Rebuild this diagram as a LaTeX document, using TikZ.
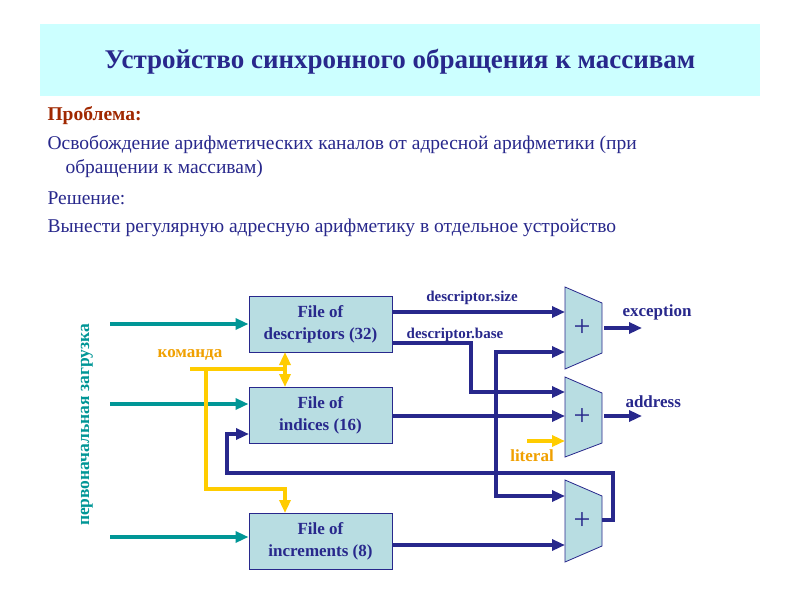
\documentclass[tikz,border=0pt]{standalone}
\usepackage{fontspec}
\setmainfont{Liberation Serif}
\usetikzlibrary{arrows.meta}
\definecolor{navy}{RGB}{40,40,140}
\definecolor{tealc}{RGB}{0,150,150}
\definecolor{yel}{RGB}{255,204,0}
\definecolor{orng}{RGB}{240,160,0}
\definecolor{boxf}{RGB}{184,221,226}
\definecolor{hdr}{RGB}{204,255,255}
\definecolor{brn}{RGB}{160,40,0}
\begin{document}
\begin{tikzpicture}[x=1pt,y=-1pt,
  tip/.style={-{Triangle[length=13pt,width=11pt]}},
  blk/.style={draw=navy,fill=boxf,line width=1pt,minimum width=143pt,minimum height=56pt,align=center,text=navy,font=\bfseries\fontsize{17}{22}\selectfont},
  bl/.style={draw=navy,line width=3.2pt,tip},
  tl/.style={draw=tealc,line width=3.2pt,tip},
  yl/.style={draw=yel,line width=3.2pt},
  lab/.style={text=navy,font=\bfseries\fontsize{15}{17}\selectfont},
  txt/.style={anchor=west,text=navy,font=\fontsize{19.5}{22}\selectfont},
  pl/.style={text=navy,font=\fontsize{30}{30}\selectfont},
  add/.style={draw=navy,fill=boxf,line width=0.8pt}]
\useasboundingbox (0,0) rectangle (800,600);
\fill[white] (0,0) rectangle (800,600);
\node[fill=hdr,minimum width=720pt,minimum height=72pt,anchor=north west,inner sep=0] (hd) at (40,24) {};
\node[text=navy,font=\bfseries\fontsize{27}{30}\selectfont] (title) at (400,62) {Устройство синхронного обращения к массивам};
\node[txt,text=brn,font=\bfseries\fontsize{19.5}{22}\selectfont] (p) at (44,116) {Проблема:};
\node[txt] (t1) at (44,145) {Освобождение арифметических каналов от адресной арифметики (при};
\node[txt] (t2) at (62,169) {обращении к массивам)};
\node[txt] (r) at (44,198) {Решение:};
\node[txt] (t3) at (44,228) {Вынести регулярную адресную арифметику в отдельное устройство};

\node[blk] (d) at (320.5,324) {File of\\descriptors (32)};
\node[blk] (i) at (320.5,415) {File of\\indices (16)};
\node[blk] (n) at (320.5,541) {File of\\increments (8)};

\draw[add] (565,287) -- (602,303) -- (602,353) -- (565,369) -- cycle;
\node[pl] (a1) at (582,328) {+};
\draw[add] (565,377) -- (602,393) -- (602,443) -- (565,457) -- cycle;
\node[pl] (a2) at (582,417) {+};
\draw[add] (565,480) -- (602,496) -- (602,546) -- (565,562) -- cycle;
\node[pl] (a3) at (582,521) {+};

\coordinate (s1) at (110,324); \coordinate (s2) at (110,404); \coordinate (s3) at (110,537);
\draw[tl] (s1) -- (d.west|-s1);
\draw[tl] (s2) -- (i.west|-s2);
\draw[tl] (s3) -- (n.west|-s3);
\node[rotate=90,text=tealc,font=\bfseries\fontsize{17.5}{20}\selectfont] (pz) at (87,425) {первоначальная загрузка};

\draw[bl] (392,312) -- (565,312);
\node[lab] (ds) at (472,298) {descriptor.size};
\draw[bl] (392,343) -- (471,343) -- (471,392) -- (565,392);
\node[lab] (db) at (455,335) {descriptor.base};
\draw[bl] (392,416) -- (565,416);
\draw[bl] (392,545) -- (565,545);
\draw[bl] (602,520) -- (613,520) -- (613,473) -- (227,473) -- (227,434) -- (249,434);
\coordinate (v) at (496,420);
\draw[bl] (v) -- (496,352) -- (565,352);
\draw[bl] (v) -- (496,496) -- (565,496);
\draw[bl] (604,328) -- (642,328);
\node[lab,anchor=west,font=\bfseries\fontsize{17}{19}\selectfont] (ex) at (619,312) {exception};
\draw[bl] (604,416) -- (642,416);
\node[lab,anchor=west,font=\bfseries\fontsize{17}{19}\selectfont] (ad) at (622,402) {address};

\draw[yl,tip] (527,441) -- (565,441);
\node[lab,text=orng,font=\bfseries\fontsize{17}{19}\selectfont] (lit) at (532,456) {literal};
\node[lab,text=orng,font=\bfseries\fontsize{17}{19}\selectfont] (km) at (190,355) {команда};
\draw[yl] (190,369) -- (285,369);
\draw[yl,{Triangle[length=13pt,width=11pt]}-{Triangle[length=13pt,width=11pt]}] (285,352) -- (285,387);
\draw[yl,tip] (206,369) -- (206,489) -- (285,489) -- (285,513);
\end{tikzpicture}
\end{document}
